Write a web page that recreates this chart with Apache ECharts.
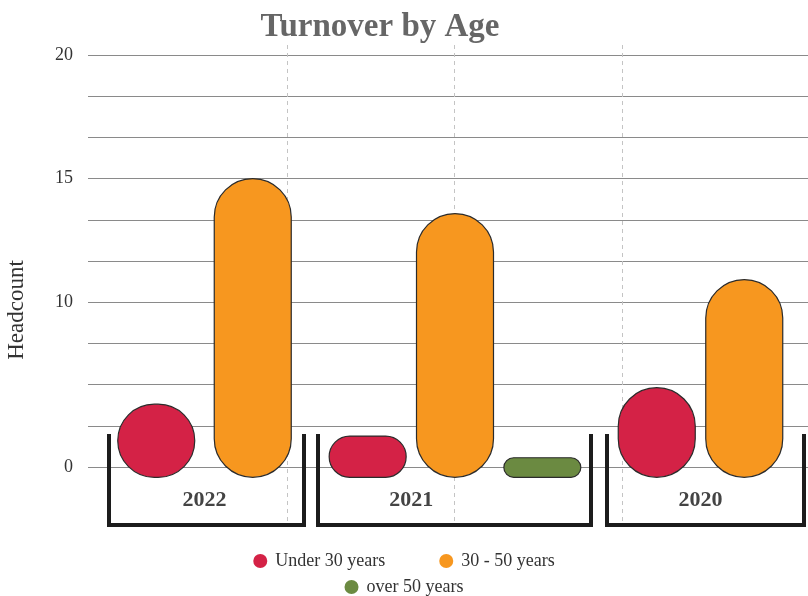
<!DOCTYPE html>
<html>
<head>
<meta charset="utf-8">
<title>Turnover by Age</title>
<script src="https://cdn.jsdelivr.net/npm/echarts@6/dist/echarts.min.js"></script>
<style>
    html, body { margin: 0; padding: 0; background: #fff; }
    #main { width: 808px; height: 596px; }
</style>
</head>
<body>
<div id="main"></div>
<script>
// data (units follow the grid lines, 2 per line)
var years = ['2022', '2021', '2020'];
var groups = ['Under 30 years', '30 - 50 years', 'over 50 years'];
var under30 = [3.05, 1.5, 3.85];
var age30to50 = [14, 12.3, 9.1];
var over50 = [null, 0.45, null];
var yTickLabels = ['0', '', '', '', '10', '', '', '15', '', '', '20'];

var groupColors = ['#d42246', '#f7971f', '#6b8a41'];
var FONT = 'Liberation Serif';
var barWidth = 77;
var barBase = -0.5;
// pixel boxes of the three year panels
var facetBoxes = [
    { left: 108, width: 193, bracket: [109, 304] },
    { left: 324, width: 262, bracket: [318, 591] },
    { left: 613, width: 175, bracket: [607, 804] }
];

var values = [under30, age30to50, over50];

function renderPill(params, api) {
    var top = api.coord([api.value(0), api.value(1)]);
    var base = api.coord([api.value(0), barBase]);
    return {
        type: 'rect',
        shape: {
            x: top[0] - barWidth / 2,
            y: top[1],
            width: barWidth,
            height: base[1] - top[1],
            r: barWidth / 2
        },
        style: api.style()
    };
}

var grids = [{ left: 88, right: 0, top: 55, bottom: 129 }];
var xAxes = [{ gridIndex: 0, type: 'category', show: false }];
var yAxes = [{
    gridIndex: 0,
    type: 'value',
    min: 0,
    max: 20,
    interval: 2,
    axisLine: { show: false },
    axisTick: { show: false },
    axisLabel: {
        margin: 15,
        fontFamily: FONT,
        fontSize: 18,
        color: '#333',
        formatter: function (v) { return yTickLabels[Math.round(v / 2)]; }
    },
    splitLine: { lineStyle: { color: '#8a8a8a', width: 1 } }
}];
var series = [];
var facetCats = [];

years.forEach(function (year, f) {
    var cats = [];
    var points = {};
    groups.forEach(function (g, k) {
        if (values[k][f] != null) {
            points[g] = [cats.length, values[k][f]];
            cats.push(g);
        }
    });
    facetCats.push(cats);
    grids.push({ left: facetBoxes[f].left, width: facetBoxes[f].width, top: 55, bottom: 129 });
    xAxes.push({ gridIndex: f + 1, type: 'category', data: cats, show: false });
    yAxes.push({ gridIndex: f + 1, type: 'value', min: 0, max: 20, show: false });
    groups.forEach(function (g, k) {
        if (!points[g]) return;
        series.push({
            name: g,
            type: 'custom',
            xAxisIndex: f + 1,
            yAxisIndex: f + 1,
            renderItem: renderPill,
            encode: { x: 0, y: 1 },
            itemStyle: { color: groupColors[k], borderColor: '#2b2b2b', borderWidth: 1.2 },
            data: [points[g]]
        });
    });
});

// faint dashed verticals
grids.push({ left: 119, right: 18, top: 45, bottom: 71 });
xAxes.push({
    gridIndex: 4,
    type: 'value',
    min: 0,
    max: 4,
    interval: 1,
    axisLine: { show: false },
    axisTick: { show: false },
    axisLabel: { show: false },
    splitLine: {
        show: true,
        showMinLine: false,
        showMaxLine: false,
        lineStyle: { color: '#c4c4c4', type: [4, 4], width: 1 }
    }
});
yAxes.push({ gridIndex: 4, type: 'value', show: false });

var legendText = { fontFamily: FONT, fontSize: 18, color: '#333' };
var graphics = [
    {
        id: 'title',
        type: 'text',
        x: 380,
        y: 27,
        style: {
            text: 'Turnover by Age',
            fontFamily: FONT,
            fontWeight: 'bold',
            fontSize: 33,
            fill: '#666',
            align: 'center',
            verticalAlign: 'middle'
        }
    },
    {
        id: 'yname',
        type: 'text',
        x: 17,
        y: 310,
        rotation: Math.PI / 2,
        style: {
            text: 'Headcount',
            fontFamily: FONT,
            fontSize: 23,
            fill: '#333',
            align: 'center',
            verticalAlign: 'middle'
        }
    }
];
facetBoxes.forEach(function (b, f) {
    graphics.push({
        id: 'bracket' + f,
        type: 'polyline',
        z: 10,
        shape: { points: [[b.bracket[0], 434], [b.bracket[0], 525], [b.bracket[1], 525], [b.bracket[1], 434]] },
        style: { stroke: '#1c1c1c', lineWidth: 4, fill: null }
    });
});

var option = {
    animation: false,
    grid: grids,
    xAxis: xAxes,
    yAxis: yAxes,
    legend: [
        {
            data: [groups[0], groups[1]],
            top: 547,
            left: 'center',
            icon: 'circle',
            itemWidth: 20,
            itemHeight: 14,
            itemGap: 54,
            itemStyle: { borderWidth: 0 },
            textStyle: legendText
        },
        {
            data: [groups[2]],
            top: 573,
            left: 'center',
            icon: 'circle',
            itemWidth: 20,
            itemHeight: 14,
            itemStyle: { borderWidth: 0 },
            textStyle: legendText
        }
    ],
    graphic: graphics,
    series: series
};

var chart = echarts.init(document.getElementById('main'));
chart.setOption(option);

// year label sits between the first two pills of its panel
var yearLabels = years.map(function (year, f) {
    var a = chart.convertToPixel({ xAxisIndex: f + 1 }, facetCats[f][0]);
    var b = chart.convertToPixel({ xAxisIndex: f + 1 }, facetCats[f][1]);
    return {
        id: 'year' + f,
        type: 'text',
        x: (a + b) / 2,
        y: 500,
        style: {
            text: year,
            fontFamily: FONT,
            fontWeight: 'bold',
            fontSize: 22,
            fill: '#444',
            align: 'center',
            verticalAlign: 'middle'
        }
    };
});
chart.setOption({ graphic: graphics.concat(yearLabels) });
</script>
</body>
</html>
